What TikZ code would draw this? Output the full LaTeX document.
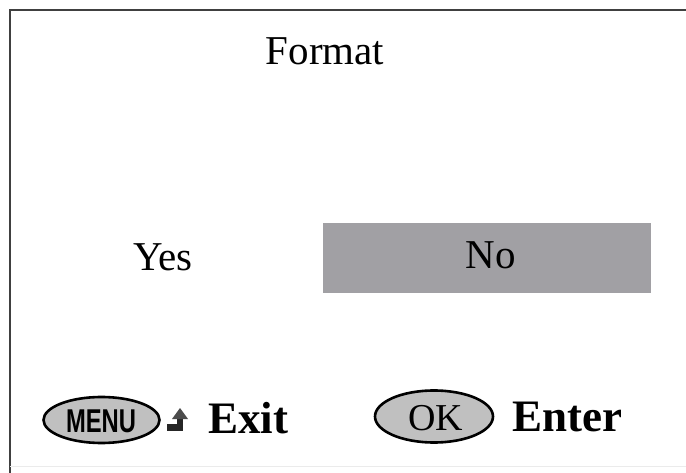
\documentclass[tikz,border=0pt]{standalone}
\usepackage{fontspec}
\setmainfont{Liberation Serif}
\newfontfamily\btnfont{Liberation Sans}
\definecolor{selgray}{RGB}{161,160,164}
\definecolor{btngray}{RGB}{192,192,192}
\definecolor{framegray}{RGB}{64,64,64}
\begin{document}
\begin{tikzpicture}[x=1pt,y=-1pt,
  lbl/.style={inner sep=0pt,anchor=base,font=\fontsize{41}{41}\selectfont},
  keylbl/.style={inner sep=0pt,anchor=base west,font=\fontsize{45}{45}\selectfont\bfseries},
  btnline/.style={draw=black,line width=2.6pt,fill=btngray}]
\useasboundingbox (0,0) rectangle (686,473);
\fill[white] (0,0) rectangle (686,473);
% frame
\draw[framegray,line width=2pt] (9.5,473) -- (9.5,10) -- (686,10);
\draw[black!8,line width=1pt] (10,466) -- (686,466);
% title
\node[lbl] (title) at (325,65) {Format};
% options
\fill[selgray] (323,223) rectangle (651,293);
\node[lbl] (yes) at (163,271) {Yes};
\node[lbl] (no) at (491,269) {No};
% MENU button
\draw[btnline] (101.5,420) ellipse (58 and 23);
\node[inner sep=0pt] (menu) at (101,421) {\btnfont\bfseries\fontsize{33}{33}\selectfont\scalebox{0.72}[1]{MENU}};
% return arrow icon
\fill[black!85] (167,424) rectangle (182,431);
\fill[black!85] (177,417) rectangle (183,431);
\fill[black!70] (172,419) -- (180,408) -- (188,419) -- cycle;
\node[keylbl] (exit) at (208,433) {Exit};
% OK button
\draw[btnline] (434,416.5) ellipse (59 and 26);
\node[inner sep=0pt,anchor=base,font=\fontsize{38}{38}\selectfont] (ok) at (436,430) {OK};
\node[keylbl] (enter) at (512,431) {Enter};
\end{tikzpicture}
\end{document}
